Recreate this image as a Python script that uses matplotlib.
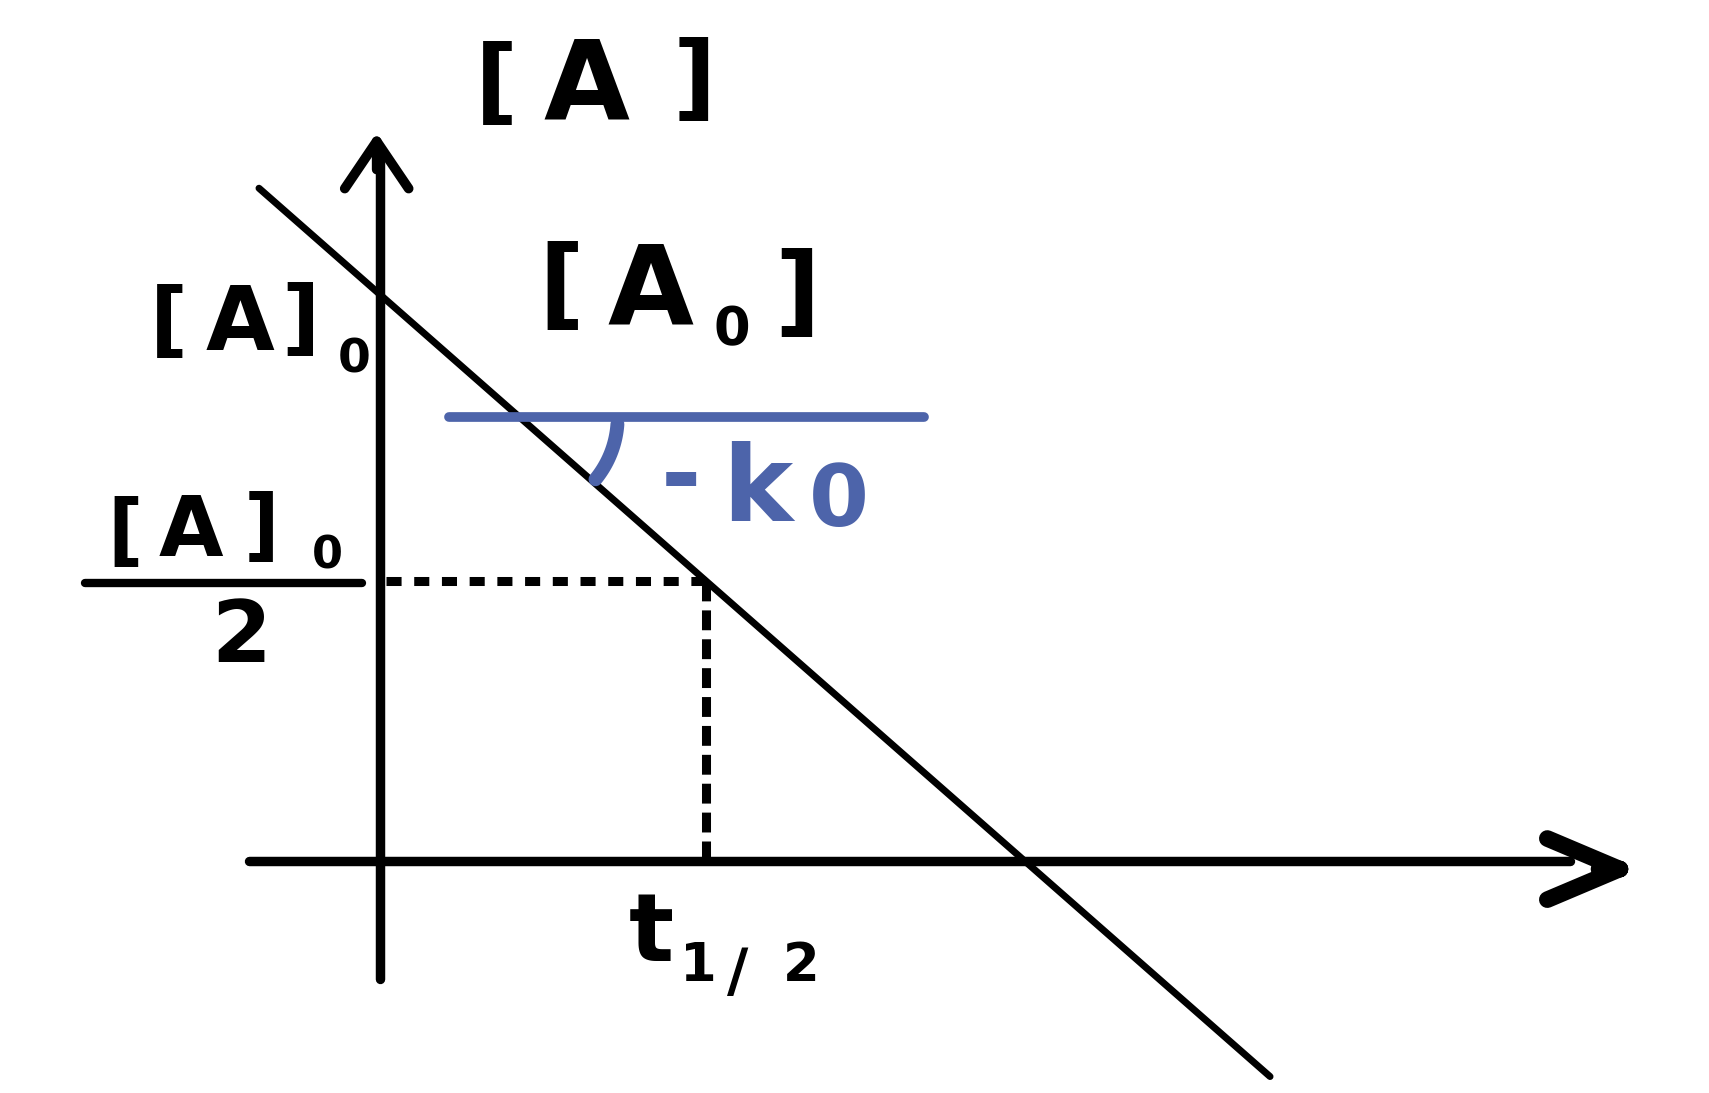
import numpy as np
import matplotlib
matplotlib.use("Agg")
import matplotlib.pyplot as plt

# ---- data ----
line_t = [-0.375, 2.76]          # zero-order decay line, time endpoints
line_conc = [1.187, -0.38]       # concentration at those endpoints
A0 = 1.0                         # [A]0 intercept
t_half = 1.01                    # half-life
half_conc = 0.494                # [A]0 / 2
slope_ref_t = [0.214, 1.687]     # horizontal reference line for slope
slope_ref_conc = [0.783, 0.783]
xaxis_t = [-0.406, 3.69]
yaxis_conc = [-0.208, 1.25]

BLUE = "#4d64aa"
PX_X = 322.5   # pixels per time unit
PX_Y = 567.0   # pixels per conc unit

fig = plt.figure(figsize=(17.09, 10.93), dpi=100)
ax = fig.add_axes([0, 0, 1, 1])
ax.set_xlim(-1.178, 4.121)
ax.set_ylim(-0.409, 1.519)
ax.axis("off")

# axes (hand drawn)
ax.plot(xaxis_t, [0, 0], color="black", lw=6.8, solid_capstyle="round")
ax.plot([0, 0], [yaxis_conc[0], yaxis_conc[1]], color="black", lw=6.8, solid_capstyle="round")
ax.annotate("", xy=(-0.01, 1.285), xytext=(-0.01, 1.22),
            arrowprops=dict(arrowstyle="->,head_length=3.4,head_width=2.3", lw=7,
                            color="black", shrinkA=0, shrinkB=0, joinstyle="round",
                            capstyle="round"))
ax.annotate("", xy=(3.91, -0.014), xytext=(3.78, -0.014),
            arrowprops=dict(arrowstyle="->,head_length=5.2,head_width=2.2", lw=12,
                            color="black", shrinkA=0, shrinkB=0, joinstyle="round",
                            capstyle="round"))

# decay line
ax.plot(line_t, line_conc, color="black", lw=5, solid_capstyle="round")

# dashed guides at half-life
ax.plot([0.02, t_half], [half_conc, half_conc], color="black", lw=6.5,
        linestyle=(0, (1.67, 1.4)), dash_capstyle="butt")
ax.plot([t_half, t_half], [half_conc, 0], color="black", lw=6.5,
        linestyle=(0, (2.2, 1.0)), dash_capstyle="butt")

# slope reference line and angle arc
ax.plot(slope_ref_t, slope_ref_conc, color=BLUE, lw=7, solid_capstyle="round")
slope = (line_conc[1] - line_conc[0]) / (line_t[1] - line_t[0])
tc = line_t[0] + (slope_ref_conc[0] - line_conc[0]) / slope
ang = np.degrees(np.arctan(slope * PX_Y / PX_X))
phi = np.radians(np.linspace(ang + 2, -4, 40))
r = 98
ax.plot(tc + r / PX_X * np.cos(phi), slope_ref_conc[0] + r / PX_Y * np.sin(phi),
        color=BLUE, lw=10, solid_capstyle="round")


def put(pieces, color="black"):
    for s, x, y, fs in pieces:
        ax.text(x, y, s, fontsize=fs, ha="center", va="center", color=color,
                fontweight="bold", family="DejaVu Sans")


# [A] axis title
put([("[", 0.360, 1.365, 68), ("A", 0.640, 1.362, 80), ("]", 0.975, 1.372, 68)])
# [A0] intercept
put([("[", 0.562, 1.009, 72), ("A", 0.840, 1.0, 80), ("0", 1.092, 0.936, 38),
     ("]", 1.295, 0.996, 72)])
# [A]0 on the y axis
put([("[", -0.654, 0.947, 60), ("A", -0.434, 0.945, 64), ("]", -0.248, 0.951, 60),
     ("0", -0.081, 0.884, 34)])
# [A]0 / 2
put([("[", -0.791, 0.577, 56), ("A", -0.586, 0.580, 60), ("]", -0.366, 0.586, 56),
     ("0", -0.164, 0.538, 32), ("2", -0.430, 0.392, 62)])
ax.plot([-0.915, -0.056], [0.490, 0.490], color="black", lw=6, solid_capstyle="round")
# t1/2
put([("t", 0.843, -0.131, 68), ("1", 0.986, -0.185, 38), ("/", 1.110, -0.200, 42),
     ("2", 1.305, -0.185, 38)])
# slope label
put([("-", 0.934, 0.672, 70), ("k", 1.171, 0.652, 76), ("0", 1.424, 0.632, 62)], color=BLUE)

fig.savefig("out.png", dpi=100, facecolor="white")
